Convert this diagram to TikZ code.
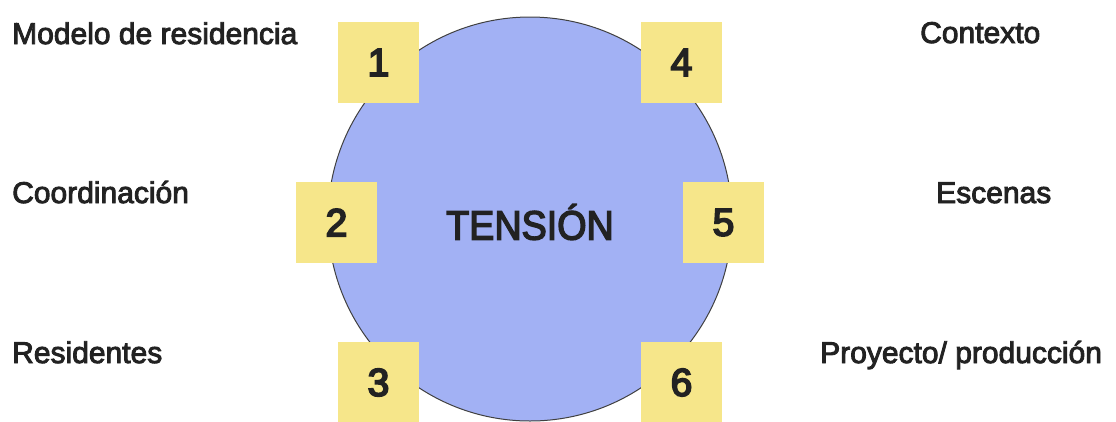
\documentclass[tikz,border=0pt]{standalone}
\usepackage{fontspec}
\setmainfont{Liberation Sans}
\newfontfamily\labfont[FakeBold=3]{Liberation Sans}
\newfontfamily\numfont[FakeBold=4.5]{Liberation Sans}
\newfontfamily\tenfont[FakeBold=3.5,FakeStretch=0.92]{Liberation Sans}
\definecolor{circfill}{HTML}{A2B1F4}
\definecolor{boxfill}{HTML}{F6E68A}
\definecolor{ink}{HTML}{222222}
\begin{document}
\begin{tikzpicture}[x=1pt,y=-1pt,
  numbox/.style={fill=boxfill,draw=none,minimum width=81pt,minimum height=81pt,inner sep=0pt,
    font=\numfont\fontsize{39}{39}\selectfont,text=ink},
  lab/.style={anchor=base west,inner sep=0pt,font=\labfont\fontsize{30}{30}\selectfont,text=ink}]
\useasboundingbox (0,0) rectangle (1116,421);
\node[circle,draw=black!75,line width=1pt,fill=circfill,minimum size=404pt,inner sep=0pt] (circ) at (530,219) {};
\node[text=ink,font=\tenfont\fontsize{41}{41}\selectfont,inner sep=0pt] (ten) at (530,222) {TENSIÓN};
\node[numbox] (b1) at (378.5,62.5) {1};
\node[numbox] (b2) at (336.5,222.5) {2};
\node[numbox] (b3) at (378.5,382.5) {3};
\node[numbox] (b4) at (681.5,62.5) {4};
\node[numbox] (b5) at (723.5,222.5) {5};
\node[numbox] (b6) at (681.5,382.5) {6};
\node[lab] (l1) at (12,44) {Modelo de residencia};
\node[lab] (l2) at (12,203) {Coordinación};
\node[lab] (l3) at (12,363) {Residentes};
\node[lab] (l4) at (920,43) {Contexto};
\node[lab] (l5) at (936,203) {Escenas};
\node[lab] (l6) at (820,363) {Proyecto/ producción};
\end{tikzpicture}
\end{document}
